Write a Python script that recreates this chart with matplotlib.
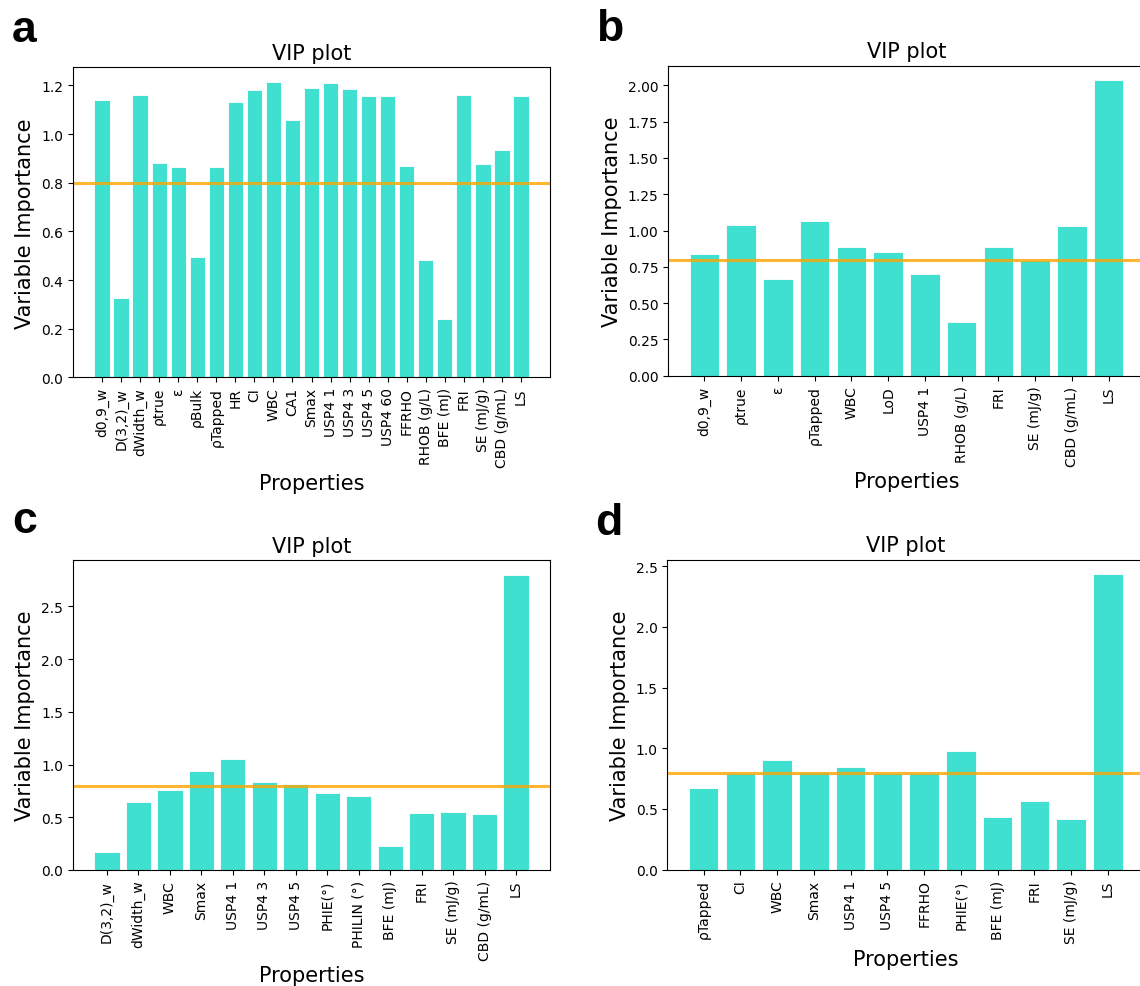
import matplotlib
matplotlib.use("Agg")
import matplotlib.pyplot as plt

# VIP scores
labels_a = ["d0,9_w", "D(3,2)_w", "dWidth_w", "ρtrue", "ε", "ρBulk", "ρTapped",
            "HR", "CI", "WBC", "CA1", "Smax", "USP4 1", "USP4 3", "USP4 5",
            "USP4 60", "FFRHO", "RHOB (g/L)", "BFE (mJ)", "FRI", "SE (mJ/g)",
            "CBD (g/mL)", "LS"]
vip_a = [1.139, 0.327, 1.162, 0.881, 0.864, 0.496, 0.864, 1.132, 1.180, 1.214,
         1.057, 1.191, 1.209, 1.186, 1.157, 1.157, 0.870, 0.484, 0.239, 1.162,
         0.877, 0.935, 1.157]

labels_b = ["d0,9_w", "ρtrue", "ε", "ρTapped", "WBC", "LoD", "USP4 1",
            "RHOB (g/L)", "FRI", "SE (mJ/g)", "CBD (g/mL)", "LS"]
vip_b = [0.840, 1.038, 0.664, 1.065, 0.889, 0.850, 0.703, 0.371, 0.889, 0.800,
         1.029, 2.034]

labels_c = ["D(3,2)_w", "dWidth_w", "WBC", "Smax", "USP4 1", "USP4 3", "USP4 5",
            "PHIE(°)", "PHILIN (°)", "BFE (mJ)", "FRI", "SE (mJ/g)",
            "CBD (g/mL)", "LS"]
vip_c = [0.173, 0.647, 0.757, 0.943, 1.050, 0.836, 0.820, 0.726, 0.700, 0.230,
         0.539, 0.552, 0.527, 2.801]

labels_d = ["ρTapped", "CI", "WBC", "Smax", "USP4 1", "USP4 5", "FFRHO",
            "PHIE(°)", "BFE (mJ)", "FRI", "SE (mJ/g)", "LS"]
vip_d = [0.670, 0.794, 0.907, 0.805, 0.846, 0.794, 0.794, 0.975, 0.437, 0.569,
         0.415, 2.431]

threshold = 0.8

W, H = 1140, 987
fig = plt.figure(figsize=(W / 100, H / 100), dpi=100)

# axes boxes in pixels: left, top, width, height
panels = [
    ("a", labels_a, vip_a, (72.7, 68.3, 477.6, 310), (12, 41.7)),
    ("b", labels_b, vip_b, (668, 66.7, 477, 310), (596, 40.7)),
    ("c", labels_c, vip_c, (72.7, 561, 477.6, 310), (12, 533)),
    ("d", labels_d, vip_d, (667.3, 560.7, 477, 310), (595, 535)),
]

for tag, labs, vals, box, tpos in panels:
    l, t, w, h = box
    ax = fig.add_axes([l / W, 1 - (t + h) / H, w / W, h / H])
    x = list(range(len(labs)))
    ax.bar(x, vals, width=0.8, color="turquoise", edgecolor="white", linewidth=0.6)
    ax.axhline(threshold, color="orange", alpha=0.8, linewidth=2.2)
    ax.set_xticks(x)
    ax.set_xticklabels(labs, rotation=90, fontsize=10)
    ax.tick_params(axis="y", labelsize=10)
    ax.set_title("VIP plot", fontsize=15)
    ax.set_xlabel("Properties", fontsize=15)
    ax.set_ylabel("Variable Importance", fontsize=15)
    fig.text(tpos[0] / W, 1 - tpos[1] / H, tag, fontsize=32, fontweight="bold",
             family=["Liberation Sans", "DejaVu Sans"], ha="left", va="baseline")

fig.savefig("out.png", dpi=100)
